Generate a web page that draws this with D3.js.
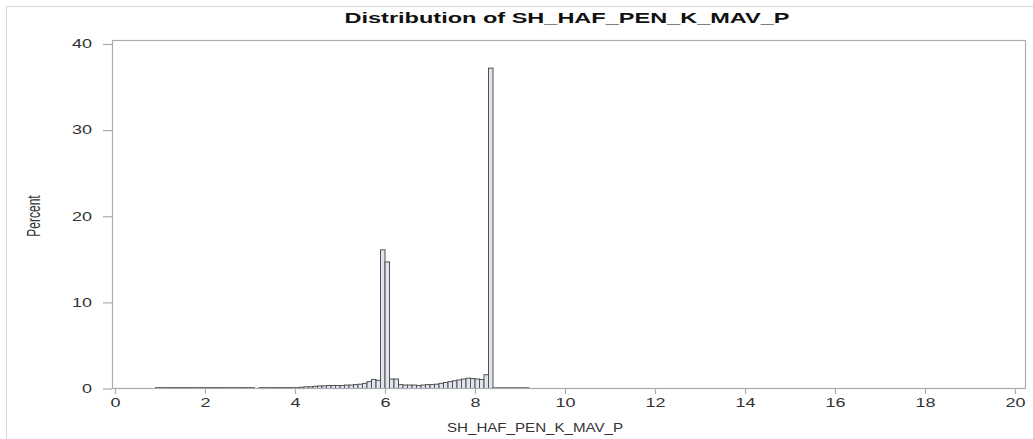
<!DOCTYPE html>
<html>
<head>
<meta charset="utf-8">
<script src="https://cdn.jsdelivr.net/npm/d3@7"></script>
<style>
    body { margin: 0; background: #fff; }
    text { font-family: "Liberation Sans", Arial, sans-serif; }
</style>
</head>
<body>
<div id="graphContainer"></div>
<script>
"use strict";
// histogram bins (left edge of each bin, width 0.1) and percent in each bin
const binStart = [
    0.9, 1.0, 1.1, 1.2, 1.3, 1.4, 1.5, 1.6, 1.7, 1.8, 1.9, 2.0, 2.1, 2.2, 2.3, 2.4, 2.5, 2.6, 2.7, 2.8, 2.9, 3.0,
    3.1, 3.2, 3.3, 3.4, 3.5, 3.6, 3.7, 3.8, 3.9, 4.0,
    4.1, 4.2, 4.3, 4.4, 4.5, 4.6, 4.7, 4.8, 4.9, 5.0, 5.1, 5.2, 5.3, 5.4, 5.5, 5.6, 5.7, 5.8, 5.9, 6.0,
    6.1, 6.2, 6.3, 6.4, 6.5, 6.6, 6.7, 6.8, 6.9, 7.0, 7.1, 7.2, 7.3, 7.4, 7.5, 7.6, 7.7, 7.8, 7.9, 8.0,
    8.1, 8.2, 8.3, 8.4, 8.5, 8.6, 8.7, 8.8, 8.9, 9.0, 9.1
]
const percent = [
    0.1, 0.1, 0.1, 0.1, 0.1, 0.1, 0.1, 0.1, 0.1, 0.1, 0.1, 0.1, 0.1, 0.1, 0.1, 0.1, 0.1, 0.1, 0.1, 0.1, 0.1, 0.1,
    0, 0.1, 0.1, 0.1, 0.1, 0.1, 0.1, 0.1, 0.1, 0.1,
    0.15, 0.2, 0.2, 0.25, 0.3, 0.3, 0.35, 0.35, 0.35, 0.35, 0.4, 0.4, 0.45, 0.5, 0.6, 0.8, 1.05, 0.95, 16.1, 14.7,
    1.1, 1.1, 0.45, 0.4, 0.4, 0.4, 0.35, 0.4, 0.45, 0.45, 0.5, 0.6, 0.7, 0.8, 0.9, 1.0, 1.1, 1.2, 1.15, 1.1,
    1.05, 1.6, 37.2, 0.08, 0.08, 0.08, 0.08, 0.08, 0.08, 0.08, 0.08
]
const binWidth = 0.1
const xTicks = [0, 2, 4, 6, 8, 10, 12, 14, 16, 18, 20]
const yTicks = [0, 10, 20, 30, 40]
const titleText = "Distribution of SH_HAF_PEN_K_MAV_P"
const xLabel = "SH_HAF_PEN_K_MAV_P"
const yLabel = "Percent"

const measurements = { width: 1033, height: 439 }
const frame = { left: 112, right: 1025, top: 40, bottom: 388 }
// the picture is stretched horizontally, so text is widened too
const stretch = 1.5
const axisColor = "#a9adb3"

const svg = d3.select("#graphContainer").append("svg")
    .attr("width", measurements.width)
    .attr("height", measurements.height)

// outer border
svg.append("rect")
    .attr("x", 6.5).attr("y", 6.5)
    .attr("width", 1100).attr("height", 500)
    .attr("fill", "none")
    .attr("stroke", "#d6d6d6")

const scaleX = d3.scaleLinear().domain([0, 20]).range([115, 1015])
const scaleY = d3.scaleLinear().domain([0, 40]).range([388.5, 44])

// bars
const rows = binStart.map((b, i) => ({ start: b, value: percent[i] })).filter(d => d.value > 0)
svg.selectAll(".bar")
    .data(rows)
    .enter()
    .append("rect")
    .attr("class", "bar")
    .attr("x", d => scaleX(d.start))
    .attr("width", d => scaleX(d.start + binWidth) - scaleX(d.start))
    .attr("y", d => scaleY(d.value))
    .attr("height", d => scaleY(0) - scaleY(d.value))
    .attr("fill", "#dfe4ee")
    .attr("stroke", "#505050")
    .attr("stroke-width", 1)

// frame
svg.append("rect")
    .attr("x", frame.left + 0.5).attr("y", frame.top + 0.5)
    .attr("width", frame.right - frame.left)
    .attr("height", frame.bottom - frame.top)
    .attr("fill", "none")
    .attr("stroke", axisColor)
    .attr("stroke-width", 1.2)

// axes
const xAxis = d3.axisBottom(scaleX).tickValues(xTicks).tickSize(6).tickPadding(4)
const gx = svg.append("g")
    .attr("transform", `translate(0,${frame.bottom})`)
    .call(xAxis)
gx.select(".domain").remove()
gx.selectAll(".tick line").attr("stroke", axisColor).attr("stroke-width", 1.2)
gx.selectAll(".tick text")
    .attr("transform", `scale(${stretch},1)`)
    .attr("fill", "#333")
    .style("font-size", "12px")

const yAxis = d3.axisLeft(scaleY).tickValues(yTicks).tickSize(9).tickPadding(0)
const gy = svg.append("g")
    .attr("transform", `translate(${frame.left},0)`)
    .call(yAxis)
gy.select(".domain").remove()
gy.selectAll(".tick line").attr("stroke", axisColor).attr("stroke-width", 1.2)
gy.selectAll(".tick text")
    .attr("x", -20 / stretch)
    .attr("transform", `scale(${stretch},1)`)
    .attr("fill", "#333")
    .style("font-size", "12px")

// title and labels
svg.append("text")
    .attr("x", 567).attr("y", 23)
    .attr("text-anchor", "middle")
    .attr("textLength", 445)
    .attr("lengthAdjust", "spacingAndGlyphs")
    .style("font-size", "14px")
    .style("font-weight", "bold")
    .attr("fill", "#111")
    .text(titleText)

svg.append("text")
    .attr("x", 535).attr("y", 432)
    .attr("text-anchor", "middle")
    .attr("textLength", 176)
    .attr("lengthAdjust", "spacingAndGlyphs")
    .style("font-size", "12px")
    .attr("fill", "#333")
    .text(xLabel)

svg.append("text")
    .attr("transform", `translate(40,216) scale(${stretch},1) rotate(-90)`)
    .attr("text-anchor", "middle")
    .style("font-size", "12px")
    .attr("fill", "#333")
    .text(yLabel)
</script>
</body>
</html>
